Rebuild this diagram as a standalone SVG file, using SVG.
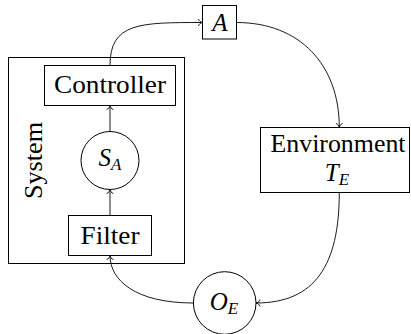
<svg xmlns="http://www.w3.org/2000/svg" width="411" height="334" viewBox="0 0 411 334">
  <style>
    .box { fill: none; stroke: #000; stroke-width: 1; }
    .lbl { font-family: 'Liberation Serif', 'DejaVu Serif', 'Noto Serif', Tinos, 'Nimbus Roman', 'Nimbus Roman No9 L', 'FreeSerif', 'Times New Roman', Times, serif; font-size: 25px; fill: #000; }
    .math { font-style: italic; }
    .sub { font-size: 17px; font-style: italic; }
    .edge { fill: none; stroke: #000; stroke-width: 0.9; marker-end: url(#tip); }
  </style>
  <defs>
    <marker id="tip" markerUnits="userSpaceOnUse" markerWidth="10" markerHeight="10" viewBox="-5 -5 10 10" refX="0" refY="0" orient="auto" overflow="visible">
      <path d="M-4,-3.4 C-3.4,-1.3 -1.6,-0.3 0,0 C-1.6,0.3 -3.4,1.3 -4,3.4" fill="none" stroke="#000" stroke-width="0.9"/>
    </marker>
  </defs>

  <!-- system container -->
  <g id="system">
    <rect class="box" x="8.5" y="57.5" width="176" height="206"/>
    <text class="lbl" transform="translate(42,160.5) rotate(-90)" text-anchor="middle" textLength="77" lengthAdjust="spacingAndGlyphs">System</text>
  </g>

  <g id="controller">
    <rect class="box" x="44.5" y="65.5" width="131" height="40"/>
    <text class="lbl" x="110" y="93" text-anchor="middle" textLength="112" lengthAdjust="spacingAndGlyphs">Controller</text>
  </g>

  <g id="state">
    <circle class="box" cx="110" cy="160.5" r="29"/>
    <text class="lbl" x="110" y="166" text-anchor="middle"><tspan class="math">S</tspan><tspan class="sub" dy="4">A</tspan></text>
  </g>

  <g id="filter">
    <rect class="box" x="68.5" y="215.5" width="83" height="40"/>
    <text class="lbl" x="110" y="244" text-anchor="middle" textLength="59" lengthAdjust="spacingAndGlyphs">Filter</text>
  </g>

  <g id="action">
    <rect class="box" x="202.5" y="5.5" width="34" height="33.5"/>
    <text class="lbl math" x="220" y="31" text-anchor="middle">A</text>
  </g>

  <g id="environment">
    <rect class="box" x="260.5" y="127.5" width="149" height="65"/>
    <text class="lbl" x="338" y="152" text-anchor="middle" textLength="135" lengthAdjust="spacingAndGlyphs">Environment</text>
    <text class="lbl" x="337" y="181" text-anchor="middle"><tspan class="math">T</tspan><tspan class="sub" dy="4">E</tspan></text>
  </g>

  <g id="observation">
    <circle class="box" cx="224.7" cy="303" r="31.3"/>
    <text class="lbl" x="224" y="310" text-anchor="middle"><tspan class="math">O</tspan><tspan class="sub" dy="4">E</tspan></text>
  </g>

  <!-- connectors -->
  <g id="edges">
    <path class="edge" d="M110,131.5 L110,105.5"/>
    <path class="edge" d="M110,215.5 L110,189.5"/>
    <path class="edge" d="M110,65.5 C110,22.5 140,22.5 202.5,22.5"/>
    <path class="edge" d="M236.5,22.5 C300,22.5 339.3,65 339.3,127.5"/>
    <path class="edge" d="M339.3,192.5 C339.3,265 315,303 256,303"/>
    <path class="edge" d="M193.4,303 C135,303 110,280 110,255.5"/>
  </g>
</svg>
